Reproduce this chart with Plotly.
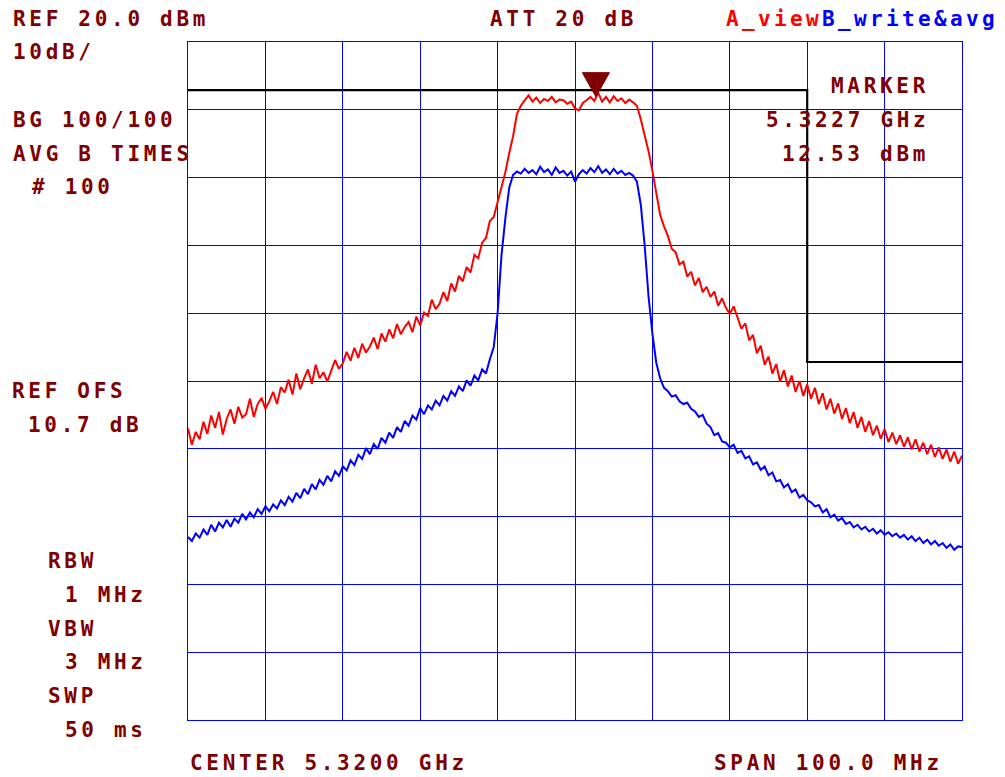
import numpy as np
import plotly.graph_objects as go

# ---- instrument settings ----
center_ghz = 5.32
span_mhz = 100.0
ref_level = 20.0
db_per_div = 10.0

# ---- traces (dBm), 0.5 MHz steps ----
trace_a_view = [
    -37.0, -39.4, -37.5, -38.6, -36.0, -37.8, -35.1, -36.9, -34.6, -37.9,
    -35.6, -34.2, -36.3, -33.8, -35.4, -34.9, -32.6, -35.3, -33.4, -32.5,
    -34.1, -33.0, -31.6, -33.4, -30.9, -31.7, -29.8, -32.0, -28.9, -31.2,
    -29.6, -28.3, -30.4, -27.6, -29.6, -28.7, -30.1, -28.6, -26.9, -28.2,
    -27.4, -25.7, -27.0, -25.1, -26.6, -24.5, -25.8, -24.9, -23.6, -25.3,
    -23.0, -24.2, -22.4, -23.7, -21.6, -23.1, -22.0, -21.3, -22.8, -20.5,
    -21.8, -19.9, -20.4, -18.0, -19.4, -18.6, -16.9, -18.2, -15.6, -16.8,
    -14.5, -15.3, -13.2, -14.0, -11.4, -11.9, -9.6, -8.9, -6.4, -5.8,
    -3.6, -1.2, 0.8, 3.6, 6.1, 9.4, 10.6, 11.4, 12.1, 11.2, 11.8,
    11.0, 11.6, 11.3, 11.9, 11.1, 11.5, 11.4, 10.9, 11.2, 10.2,
    9.9, 11.0, 11.4, 11.9, 11.3, 12.5, 11.2, 11.9, 11.1, 12.0,
    11.3, 11.7, 11.0, 11.5, 11.1, 10.6, 8.6, 6.3, 3.9, 1.0,
    -2.6, -5.5, -7.2, -8.6, -10.5, -11.0, -12.8, -12.4, -14.6, -13.9,
    -15.9, -14.8, -16.9, -16.1, -17.6, -16.8, -18.9, -17.8, -19.2, -20.1,
    -19.0, -20.6, -22.3, -21.5, -24.0, -23.2, -25.9, -24.8, -27.6, -26.4,
    -28.9, -27.5, -30.1, -28.4, -30.8, -29.2, -31.6, -30.0, -32.2, -30.5,
    -32.6, -31.0, -33.4, -31.8, -34.2, -32.6, -34.8, -33.3, -35.6, -34.0,
    -36.2, -34.6, -36.9, -35.3, -37.5, -35.9, -38.0, -36.6, -38.5, -37.1,
    -39.0, -37.6, -39.3, -38.0, -39.7, -38.3, -40.1, -38.6, -40.4, -39.1,
    -40.8, -39.4, -41.2, -39.8, -41.5, -40.1, -41.9, -40.4, -42.2, -41.0,
]

trace_b_avg = [
    -53.0, -53.6, -52.5, -53.1, -51.9, -52.7, -51.2, -52.2, -50.9, -51.6,
    -50.5, -51.5, -50.3, -50.9, -49.6, -50.4, -49.4, -50.1, -48.9, -49.6,
    -48.5, -49.2, -48.2, -48.8, -47.6, -48.3, -47.1, -47.8, -46.5, -47.3,
    -45.9, -46.7, -45.2, -46.0, -44.6, -45.3, -44.0, -44.8, -43.3, -44.0,
    -42.6, -43.2, -41.7, -42.4, -40.9, -41.5, -39.9, -40.8, -39.3, -40.0,
    -38.4, -39.1, -37.6, -38.4, -36.8, -37.5, -35.9, -36.6, -35.1, -35.7,
    -34.0, -34.9, -33.6, -34.2, -32.9, -33.6, -32.2, -32.9, -31.5, -32.2,
    -30.8, -31.5, -29.9, -30.7, -29.2, -29.9, -28.3, -28.9, -26.8, -25.0,
    -20.0, -11.5, -6.0, -1.5, 0.4, 0.9, 0.6, 1.3, 0.7, 1.1,
    0.5, 1.6, 0.8, 1.2, 0.4, 1.5, 0.7, 1.0, 0.3, 0.9,
    -0.6, 0.5, 1.1, 0.6, 1.4, 0.8, 1.7, 0.7, 1.2, 0.5,
    1.3, 0.6, 1.0, 0.4, 0.7, 0.3, -0.6, -4.0, -10.0, -17.5,
    -23.0, -27.3, -29.6, -31.0, -31.5, -32.3, -32.1, -33.0, -33.4, -33.2,
    -34.1, -34.5, -35.3, -35.0, -36.3, -36.8, -38.0, -37.7, -38.9, -39.1,
    -39.8, -39.4, -40.6, -40.3, -41.4, -41.1, -42.3, -42.0, -43.1, -42.6,
    -43.9, -43.5, -44.8, -44.6, -45.7, -45.2, -46.4, -46.0, -47.2, -46.8,
    -47.6, -47.9, -48.5, -48.3, -49.4, -48.9, -50.1, -49.7, -50.6, -50.2,
    -51.1, -50.8, -51.6, -51.2, -51.9, -51.5, -52.2, -51.8, -52.5, -52.0,
    -52.7, -52.3, -52.9, -52.5, -53.1, -52.7, -53.4, -52.9, -53.6, -53.1,
    -53.9, -53.4, -54.1, -53.6, -54.3, -53.9, -54.6, -54.1, -54.9, -54.4,
    -54.5,
]

# ---- limit line ----
limit_freqs = [5.27, 5.35, 5.35, 5.37]
limit_levels = [12.9, 12.9, -27.2, -27.2]

# ---- marker ----
marker_freq = 5.3227
marker_level = 12.53

# ---- text ----
left_labels = ["REF 20.0 dBm", "10dB/", "BG 100/100", "AVG B TIMES", "# 100",
               "REF OFS", "10.7 dB", "RBW", "1 MHz", "VBW", "3 MHz", "SWP", "50 ms",
               "ATT 20 dB", "CENTER 5.3200 GHz", "SPAN 100.0 MHz"]
left_label_pos = [(11, 19), (11, 52), (11, 120), (11, 154), (30, 187),
                  (10, 391), (26, 425), (46, 561), (63, 595), (46, 629), (63, 662),
                  (46, 696), (63, 730), (488, 19), (188, 763), (712, 763)]
right_labels = ["MARKER", "5.3227 GHz", "12.53 dBm"]
right_label_pos = [(931, 86), (931, 120), (931, 154)]

# ---- layout geometry (page body has an 8px margin) ----
OFF = 8
W, H = 1005 - OFF, 777 - OFF
L, T = 188 - OFF, 42 - OFF
pw, ph = 774, 678
R, B = W - L - pw, H - T - ph

f_start = center_ghz - span_mhz / 2000
f_stop = center_ghz + span_mhz / 2000
freqs_a = np.linspace(f_start, f_stop, len(trace_a_view))
freqs_b = np.linspace(f_start, f_stop, len(trace_b_avg))

DARK = "#7f0000"
GRID = "#0000ff"
FONT = "DejaVu Sans Mono"
LS = "letter-spacing:3.7px"
LS2 = "letter-spacing:3.35px"


def px2paper(x, y):
    # screen pixel -> paper coordinates
    return (x - OFF - L) / pw, (T + ph - (y - OFF)) / ph


fig = go.Figure()
fig.add_trace(go.Scatter(x=limit_freqs, y=limit_levels, mode="lines",
                         line=dict(color="#000000", width=2.2), hoverinfo="skip"))
fig.add_trace(go.Scatter(x=freqs_a, y=trace_a_view, mode="lines",
                         line=dict(color="#ff0000", width=2), name="A_view"))
fig.add_trace(go.Scatter(x=freqs_b, y=trace_b_avg, mode="lines",
                         line=dict(color="#0000ff", width=2), name="B_write&avg"))

# marker triangle
hw = 0.00175
fig.add_shape(type="path", xref="x", yref="y",
              path=f"M {marker_freq - hw} {marker_level + 2.95} L {marker_freq + hw} {marker_level + 2.95} "
                   f"L {marker_freq} {marker_level - 0.6} Z",
              fillcolor=DARK, line=dict(color=DARK, width=1))

annotations = []
for txt, (x, y) in zip(left_labels, left_label_pos):
    ax, ay = px2paper(x, y)
    annotations.append(dict(x=ax, y=ay, xref="paper", yref="paper", xanchor="left",
                            yanchor="middle", showarrow=False,
                            text=f'<span style="{LS}">{txt}</span>',
                            font=dict(family=FONT, size=21, color=DARK, weight="bold")))
for txt, (x, y) in zip(right_labels, right_label_pos):
    ax, ay = px2paper(x, y)
    annotations.append(dict(x=ax, y=ay, xref="paper", yref="paper", xanchor="right",
                            yanchor="middle", showarrow=False,
                            text=f'<span style="{LS}">{txt}</span>',
                            font=dict(family=FONT, size=21, color=DARK, weight="bold")))
ax, ay = px2paper(724, 19)
annotations.append(dict(x=ax, y=ay, xref="paper", yref="paper", xanchor="left",
                        yanchor="middle", showarrow=False,
                        text=f'<span style="{LS2};fill:#ff0000">A_view</span>'
                             f'<span style="{LS2};fill:#0000ff">B_write&amp;avg</span>',
                        font=dict(family=FONT, size=21, color="#ff0000", weight="bold")))

fig.update_layout(
    width=W, height=H,
    margin=dict(l=L, r=R, t=T, b=B, pad=0),
    paper_bgcolor="white", plot_bgcolor="white",
    showlegend=False,
    annotations=annotations,
    xaxis=dict(range=[f_start, f_stop], dtick=span_mhz / 10000, tick0=f_start,
               showgrid=True, gridcolor=GRID, gridwidth=1, zeroline=False,
               showline=True, linecolor=GRID, linewidth=1, mirror=True,
               showticklabels=False, ticks=""),
    yaxis=dict(range=[ref_level - 10 * db_per_div, ref_level], dtick=db_per_div,
               tick0=ref_level, showgrid=True, gridcolor=GRID, gridwidth=1,
               zeroline=False, showline=True, linecolor=GRID, linewidth=1,
               mirror=True, showticklabels=False, ticks=""),
)

fig.write_html("out.html")
